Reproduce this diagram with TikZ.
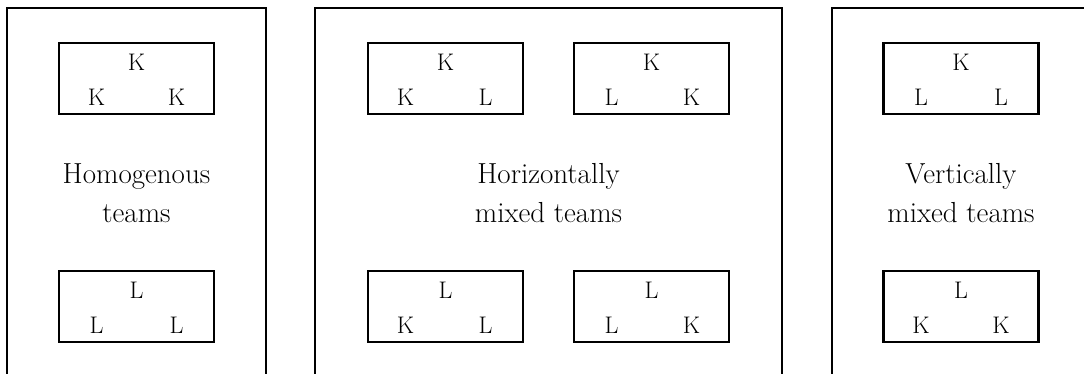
\documentclass[tikz,border=0pt]{standalone}
\usetikzlibrary{calc}

\begin{document}
\begin{tikzpicture}[x=1pt,y=-1pt,
    group/.style={draw,line width=1.9pt},
    team/.style={draw,line width=2.5pt,minimum width=155pt,minimum height=71pt,inner sep=0pt},
    member/.style={anchor=base,inner sep=0pt,font=\fontsize{24}{24}\selectfont},
    caption/.style={align=center,inner sep=0pt,font=\fontsize{29}{39}\selectfont}]
    \useasboundingbox (0,0) rectangle (1084,374);
    \clip (0,0) rectangle (1084,374);
    % the three groups
    \draw[group] (7,8) rectangle (266,390);
    \draw[group] (315,8) rectangle (782,390);
    \draw[group] (832,8) rectangle (1090,390);
    % homogenous
    \node[team]   (h1)  at (136.5,78.5)                   {};
    \node[member] (h1t) at ($(h1.center)+(0,-7.5)$)      {K};
    \node[member] (h1l) at ($(h1.center)+(-40,27.5)$)    {K};
    \node[member] (h1r) at ($(h1.center)+(40,27.5)$)     {K};
    \node[team]   (h2)  at (136.5,306.5)                  {};
    \node[member] (h2t) at ($(h2.center)+(0,-8.5)$)      {L};
    \node[member] (h2l) at ($(h2.center)+(-40,26.5)$)    {L};
    \node[member] (h2r) at ($(h2.center)+(40,26.5)$)     {L};
    \node[caption] (hc) at (136.5,193) {Homogenous\\teams};
    % horizontally mixed
    \node[team]   (m1)  at (445.5,78.5)                   {};
    \node[member] (m1t) at ($(m1.center)+(0,-7.5)$)      {K};
    \node[member] (m1l) at ($(m1.center)+(-40,27.5)$)    {K};
    \node[member] (m1r) at ($(m1.center)+(40,27.5)$)     {L};
    \node[team]   (m2)  at (651.5,78.5)                   {};
    \node[member] (m2t) at ($(m2.center)+(0,-7.5)$)      {K};
    \node[member] (m2l) at ($(m2.center)+(-40,27.5)$)    {L};
    \node[member] (m2r) at ($(m2.center)+(40,27.5)$)     {K};
    \node[team]   (m3)  at (445.5,306.5)                  {};
    \node[member] (m3t) at ($(m3.center)+(0,-8.5)$)      {L};
    \node[member] (m3l) at ($(m3.center)+(-40,26.5)$)    {K};
    \node[member] (m3r) at ($(m3.center)+(40,26.5)$)     {L};
    \node[team]   (m4)  at (651.5,306.5)                  {};
    \node[member] (m4t) at ($(m4.center)+(0,-8.5)$)      {L};
    \node[member] (m4l) at ($(m4.center)+(-40,26.5)$)    {L};
    \node[member] (m4r) at ($(m4.center)+(40,26.5)$)     {K};
    \node[caption] (mc) at (548.5,193) {Horizontally\\mixed teams};
    % vertically mixed
    \node[team]   (v1)  at (961,78.5)                     {};
    \node[member] (v1t) at ($(v1.center)+(0,-7.5)$)      {K};
    \node[member] (v1l) at ($(v1.center)+(-40,27.5)$)    {L};
    \node[member] (v1r) at ($(v1.center)+(40,27.5)$)     {L};
    \node[team]   (v2)  at (961,306.5)                    {};
    \node[member] (v2t) at ($(v2.center)+(0,-8.5)$)      {L};
    \node[member] (v2l) at ($(v2.center)+(-40,26.5)$)    {K};
    \node[member] (v2r) at ($(v2.center)+(40,26.5)$)     {K};
    \node[caption] (vc) at (961,193) {Vertically\\mixed teams};
\end{tikzpicture}
\end{document}
